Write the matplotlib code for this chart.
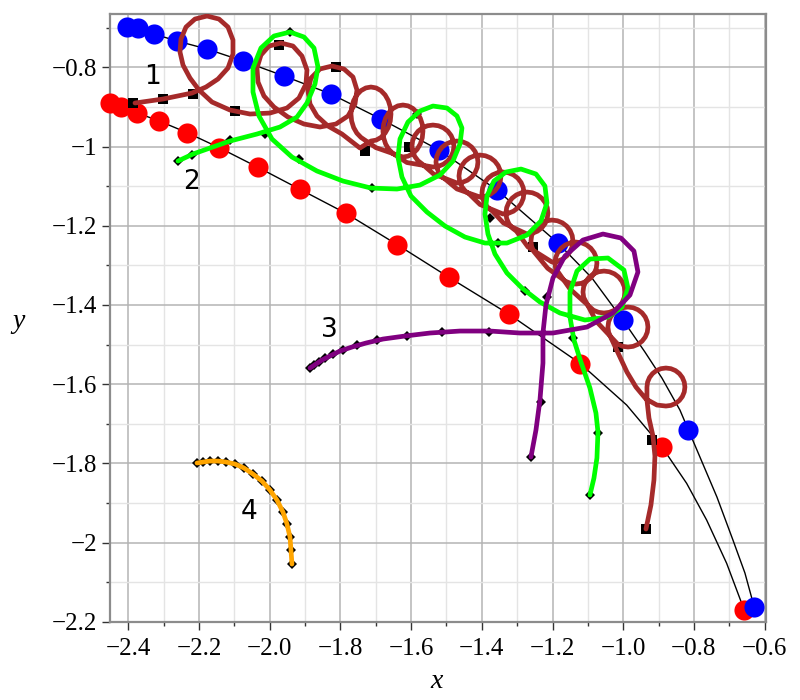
#!/usr/bin/env python3
import matplotlib
matplotlib.use("Agg")
from matplotlib import pyplot as plt

# positions of the two bodies (big dots)
blue_x = [-2.405, -2.372, -2.328, -2.262, -2.177, -2.077, -1.959, -1.828,
          -1.685, -1.521, -1.356, -1.185, -1.000, -0.816, -0.630]
blue_y = [-0.698, -0.702, -0.716, -0.733, -0.755, -0.784, -0.821, -0.867,
          -0.930, -1.009, -1.110, -1.244, -1.438, -1.716, -2.162]
red_x = [-2.452, -2.422, -2.377, -2.313, -2.233, -2.143, -2.033, -1.915,
         -1.784, -1.640, -1.493, -1.324, -1.123, -0.890, -0.658]
red_y = [-0.889, -0.900, -0.915, -0.936, -0.965, -1.003, -1.053, -1.108,
         -1.169, -1.248, -1.330, -1.423, -1.548, -1.760, -2.170]

# thin black orbits through the dots
blue_track_x = [-2.4048, -2.3728, -2.3276, -2.2625, -2.1776, -2.0758, -1.9598,
                -1.8268, -1.6854, -1.5213, -1.3572, -1.1847, -1.0885, -1.0008,
                -0.9386, -0.8905, -0.8396, -0.7830, -0.7349, -0.6896, -0.6557,
                -0.6302]
blue_track_y = [-0.6975, -0.7008, -0.7160, -0.7336, -0.7538, -0.7841, -0.8220,
                -0.8675, -0.9306, -1.0089, -1.1099, -1.2438, -1.3321, -1.4382,
                -1.5190, -1.5847, -1.6655, -1.7842, -1.8852, -1.9938, -2.0771,
                -2.1604]
red_track_x = [-2.4520, -2.4218, -2.3765, -2.3126, -2.2334, -2.1428, -2.0333,
               -1.9145, -1.7844, -1.6401, -1.4930, -1.3241, -1.1224, -0.9903,
               -0.8896, -0.8206, -0.7640, -0.7074, -0.6577]
red_track_y = [-0.8895, -0.8996, -0.9147, -0.9357, -0.9652, -1.0031, -1.0526,
               -1.1081, -1.1688, -1.2475, -1.3304, -1.4230, -1.5475, -1.6529,
               -1.7597, -1.8506, -1.9433, -2.0526, -2.1705]

# trajectory 1 (brown), loop by loop
brown_x = [
    # start and the first three (teardrop) loops
    -2.3813, -2.3021, -2.2201, -2.1804, -2.1465,
    -2.1182, -2.1041, -2.1041, -2.1182, -2.1437, -2.1776, -2.2116, -2.2370,
    -2.2512, -2.2540, -2.2455, -2.2257, -2.2002, -2.1635, -2.1126, -2.0560,
    -1.9994, -1.9513,
    -1.9174, -1.8976, -1.8947, -1.9089, -1.9343, -1.9683, -2.0022, -2.0249,
    -2.0362, -2.0333, -2.0164, -1.9881, -1.9485, -1.9032, -1.8580, -1.8127,
    -1.7787, -1.7589, -1.7533, -1.7646, -1.7901, -1.8240, -1.8580, -1.8834,
    -1.8919, -1.8862, -1.8664, -1.8353, -1.7957, -1.7448,
    # loop 4
    -1.7137, -1.6991, -1.6854, -1.6737, -1.6647, -1.6590, -1.6571, -1.6590,
    -1.6647, -1.6737, -1.6854, -1.6991, -1.7137, -1.7283, -1.7420, -1.7537,
    -1.7627, -1.7684, -1.7703, -1.7684, -1.7627, -1.7537, -1.7420, -1.6996,
    # loop 5
    -1.6232, -1.6086, -1.5949, -1.5832, -1.5742, -1.5685, -1.5666, -1.5685,
    -1.5742, -1.5832, -1.5949, -1.6086, -1.6232, -1.6378, -1.6515, -1.6632,
    -1.6722, -1.6779, -1.6798, -1.6779, -1.6722, -1.6632, -1.6515, -1.6119,
    # loop 6
    -1.5383, -1.5229, -1.5086, -1.4963, -1.4869, -1.4809, -1.4789, -1.4809,
    -1.4869, -1.4963, -1.5086, -1.5229, -1.5383, -1.5537, -1.5680, -1.5803,
    -1.5897, -1.5957, -1.5977, -1.5957, -1.5897, -1.5803, -1.5680, -1.5369,
    # loop 7
    -1.4704, -1.4550, -1.4407, -1.4284, -1.4190, -1.4130, -1.4110, -1.4130,
    -1.4190, -1.4284, -1.4407, -1.4550, -1.4704, -1.4858, -1.5001, -1.5124,
    -1.5218, -1.5278, -1.5298, -1.5278, -1.5218, -1.5124, -1.5001, -1.4704,
    # loop 8
    -1.4053, -1.3899, -1.3756, -1.3633, -1.3539, -1.3479, -1.3459, -1.3479,
    -1.3539, -1.3633, -1.3756, -1.3899, -1.4053, -1.4207, -1.4350, -1.4473,
    -1.4567, -1.4627, -1.4647, -1.4627, -1.4567, -1.4473, -1.4350, -1.4053,
    # loop 9
    -1.3403, -1.3249, -1.3106, -1.2983, -1.2889, -1.2829, -1.2809, -1.2829,
    -1.2889, -1.2983, -1.3106, -1.3249, -1.3403, -1.3557, -1.3700, -1.3823,
    -1.3917, -1.3977, -1.3997, -1.3977, -1.3917, -1.3823, -1.3700, -1.3389,
    # loop 10
    -1.2724, -1.2570, -1.2427, -1.2304, -1.2210, -1.2150, -1.2130, -1.2150,
    -1.2210, -1.2304, -1.2427, -1.2570, -1.2724, -1.2878, -1.3021, -1.3144,
    -1.3238, -1.3298, -1.3318, -1.3298, -1.3238, -1.3144, -1.3021, -1.2696,
    # loop 11
    -1.2017, -1.1863, -1.1720, -1.1597, -1.1503, -1.1443, -1.1423, -1.1443,
    -1.1503, -1.1597, -1.1720, -1.1863, -1.2017, -1.2171, -1.2314, -1.2437,
    -1.2531, -1.2591, -1.2611, -1.2591, -1.2531, -1.2138,
    # loop 12
    -1.1635, -1.1492, -1.1338, -1.1184, -1.1041, -1.0918, -1.0824, -1.0764,
    -1.0744, -1.0764, -1.0824, -1.0918, -1.1041, -1.1184, -1.1338, -1.1492,
    -1.1635, -1.1758, -1.1852, -1.1912, -1.1932, -1.1912, -1.1506,
    # loop 13
    -1.0842, -1.0699, -1.0545, -1.0391, -1.0248, -1.0125, -1.0031, -0.9971,
    -0.9951, -0.9971, -1.0031, -1.0125, -1.0248, -1.0391, -1.0545, -1.0699,
    -1.0842, -1.0965, -1.1059, -1.1119, -1.1139, -1.1119, -1.0770,
    # loop 14
    -1.0150, -1.0013, -0.9867, -0.9721, -0.9584, -0.9467, -0.9377, -0.9320,
    -0.9301, -0.9320, -0.9377, -0.9467, -0.9584, -0.9721, -0.9867, -1.0013,
    -1.0150, -1.0267, -1.0357, -1.0414, -1.0433, -1.0414, -1.0357,
    -1.0093, -0.9895, -0.9640, -0.9357, -0.9046, -0.8792,
    # loop 15 and the tail
    -0.8653, -0.8523, -0.8412, -0.8327, -0.8273, -0.8255, -0.8273, -0.8327,
    -0.8412, -0.8523, -0.8653, -0.8792, -0.8931, -0.9061, -0.9172, -0.9257,
    -0.9311, -0.9329,
    -0.9329, -0.9272, -0.9159, -0.9103, -0.9131, -0.9216, -0.9357]
brown_y = [
    -0.8902, -0.8801, -0.8650, -0.8498, -0.8296,
    -0.8018, -0.7665, -0.7311, -0.6983, -0.6781, -0.6705, -0.6781, -0.6983,
    -0.7286, -0.7614, -0.7942, -0.8271, -0.8574, -0.8877, -0.9079, -0.9180,
    -0.9155, -0.9028,
    -0.8776, -0.8422, -0.8069, -0.7715, -0.7463, -0.7387, -0.7463, -0.7690,
    -0.8018, -0.8372, -0.8725, -0.9003, -0.9256, -0.9432, -0.9508, -0.9432,
    -0.9230, -0.8927, -0.8574, -0.8245, -0.8043, -0.7968, -0.8043, -0.8271,
    -0.8599, -0.8927, -0.9230, -0.9483, -0.9685, -1.0038,
    -0.9862, -0.9839, -0.9771, -0.9662, -0.9521, -0.9357, -0.9180, -0.9003,
    -0.8839, -0.8698, -0.8589, -0.8521, -0.8498, -0.8521, -0.8589, -0.8698,
    -0.8839, -0.9003, -0.9180, -0.9357, -0.9521, -0.9662, -0.9771, -1.0029,
    -1.0266, -1.0244, -1.0178, -1.0074, -0.9937, -0.9779, -0.9609, -0.9439,
    -0.9281, -0.9144, -0.9040, -0.8974, -0.8952, -0.8974, -0.9040, -0.9144,
    -0.9281, -0.9439, -0.9609, -0.9779, -0.9937, -1.0074, -1.0178, -1.0405,
    -1.0518, -1.0500, -1.0447, -1.0363, -1.0253, -1.0125, -0.9988, -0.9851,
    -0.9723, -0.9613, -0.9529, -0.9476, -0.9458, -0.9476, -0.9529, -0.9613,
    -0.9723, -0.9851, -0.9988, -1.0125, -1.0253, -1.0363, -1.0447, -1.0693,
    -1.0922, -1.0904, -1.0851, -1.0767, -1.0657, -1.0529, -1.0392, -1.0255,
    -1.0127, -1.0017, -0.9933, -0.9880, -0.9862, -0.9880, -0.9933, -1.0017,
    -1.0127, -1.0255, -1.0392, -1.0529, -1.0657, -1.0767, -1.0851, -1.1072,
    -1.1276, -1.1258, -1.1205, -1.1121, -1.1011, -1.0883, -1.0746, -1.0609,
    -1.0481, -1.0371, -1.0287, -1.0234, -1.0216, -1.0234, -1.0287, -1.0371,
    -1.0481, -1.0609, -1.0746, -1.0883, -1.1011, -1.1121, -1.1205, -1.1464,
    -1.1705, -1.1687, -1.1634, -1.1550, -1.1440, -1.1312, -1.1175, -1.1038,
    -1.0910, -1.0800, -1.0716, -1.0663, -1.0645, -1.0663, -1.0716, -1.0800,
    -1.0910, -1.1038, -1.1175, -1.1312, -1.1440, -1.1550, -1.1634, -1.1931,
    -1.2210, -1.2192, -1.2139, -1.2055, -1.1945, -1.1817, -1.1680, -1.1543,
    -1.1415, -1.1305, -1.1221, -1.1168, -1.1150, -1.1168, -1.1221, -1.1305,
    -1.1415, -1.1543, -1.1680, -1.1817, -1.1945, -1.2055, -1.2139, -1.2537,
    -1.2917, -1.2899, -1.2846, -1.2762, -1.2652, -1.2524, -1.2387, -1.2250,
    -1.2122, -1.2012, -1.1928, -1.1875, -1.1857, -1.1875, -1.1928, -1.2012,
    -1.2122, -1.2250, -1.2387, -1.2524, -1.2652, -1.3076,
    -1.3402, -1.3455, -1.3473, -1.3455, -1.3402, -1.3318, -1.3208, -1.3080,
    -1.2943, -1.2806, -1.2678, -1.2568, -1.2484, -1.2431, -1.2413, -1.2431,
    -1.2484, -1.2568, -1.2678, -1.2806, -1.2943, -1.3080, -1.3599,
    -1.4134, -1.4187, -1.4205, -1.4187, -1.4134, -1.4050, -1.3940, -1.3812,
    -1.3675, -1.3538, -1.3410, -1.3300, -1.3216, -1.3163, -1.3145, -1.3163,
    -1.3216, -1.3300, -1.3410, -1.3538, -1.3675, -1.3812, -1.4407,
    -1.4996, -1.5047, -1.5064, -1.5047, -1.4996, -1.4916, -1.4812, -1.4690,
    -1.4559, -1.4428, -1.4306, -1.4202, -1.4122, -1.4071, -1.4054, -1.4071,
    -1.4122, -1.4202, -1.4306, -1.4428, -1.4559, -1.4690, -1.4812,
    -1.5316, -1.5695, -1.6074, -1.6377, -1.6529, -1.6554,
    -1.6538, -1.6490, -1.6413, -1.6314, -1.6198, -1.6074, -1.5950, -1.5834,
    -1.5735, -1.5658, -1.5610, -1.5594, -1.5610, -1.5658, -1.5735, -1.5834,
    -1.5950, -1.6074,
    -1.6402, -1.6857, -1.7311, -1.7816, -1.8422, -1.9054, -1.9660]
brown_sq_x = [-2.3870, -2.3021, -2.2172, -2.0984, -1.9739, -1.8127, -1.7306,
              -1.6062, -1.2554, -1.0149, -0.9188, -0.9357]
brown_sq_y = [-0.8902, -0.8801, -0.8675, -0.9104, -0.7437, -0.7993, -1.0114,
              -1.0013, -1.2539, -1.5064, -1.7412, -1.9660]

# trajectory 2 (green)
green_x = [-2.2597, -2.2172, -2.1691, -2.1126, -2.0362, -1.9711, -1.9230, -1.8947,
           -1.8721, -1.8636, -1.8749, -1.9032, -1.9428, -1.9881, -2.0249, -2.0475,
           -2.0475, -2.0305, -1.9937, -1.9372, -1.8664, -1.7929, -1.7137, -1.6401,
           -1.5751, -1.5185, -1.4817, -1.4619, -1.4563, -1.4704, -1.4987, -1.5383,
           -1.5751, -1.6090, -1.6316, -1.6373, -1.6260, -1.6005, -1.5553, -1.5043,
           -1.4478, -1.3912, -1.3290, -1.2724, -1.2328, -1.2158, -1.2215, -1.2469,
           -1.2893, -1.3318, -1.3657, -1.3855, -1.3912, -1.3827, -1.3629, -1.3290,
           -1.2865, -1.2356, -1.1790, -1.1083, -1.0432, -1.0036, -0.9867, -0.9980,
           -1.0432, -1.0942, -1.1309, -1.1507, -1.1507, -1.1394, -1.1196, -1.0942,
           -1.0772, -1.0715, -1.0744, -1.0828, -1.0942]
green_y = [-1.0367, -1.0190, -1.0038, -0.9862, -0.9685, -0.9508, -0.9256, -0.8902,
           -0.8422, -0.7993, -0.7513, -0.7235, -0.7109, -0.7210, -0.7513, -0.8018,
           -0.8624, -0.9230, -0.9811, -1.0266, -1.0619, -1.0872, -1.1049, -1.1074,
           -1.0973, -1.0720, -1.0367, -0.9937, -0.9533, -0.9230, -0.9028, -0.8978,
           -0.9104, -0.9382, -0.9811, -1.0266, -1.0771, -1.1251, -1.1655, -1.2008,
           -1.2286, -1.2438, -1.2438, -1.2236, -1.1882, -1.1427, -1.0998, -1.0695,
           -1.0569, -1.0645, -1.0872, -1.1251, -1.1705, -1.2210, -1.2715, -1.3195,
           -1.3574, -1.3927, -1.4205, -1.4382, -1.4306, -1.4054, -1.3574, -1.3119,
           -1.2816, -1.2842, -1.3145, -1.3675, -1.4306, -1.4887, -1.5443, -1.6099,
           -1.6731, -1.7210, -1.7867, -1.8372, -1.8801]
green_dia_x = [-2.2597, -2.2201, -2.1126, -2.0135, -1.9428, -1.9174, -1.7108,
               -1.5836, -1.3770, -1.3544, -1.2780, -1.1422, -1.0715, -1.0942]
green_dia_y = [-1.0367, -1.0215, -0.9836, -0.9685, -0.7109, -1.0316, -1.1049,
               -0.9180, -1.1806, -1.2438, -1.3650, -1.4837, -1.7236, -1.8801]

# trajectory 3 (purple)
purple_x = [-1.8862, -1.8693, -1.8523, -1.8297, -1.8014, -1.7674, -1.7278, -1.6797,
            -1.6175, -1.5468, -1.4619, -1.3770, -1.2922, -1.1988, -1.1026, -1.0291,
            -0.9810, -0.9584, -0.9697, -1.0065, -1.0574, -1.1140, -1.1649, -1.1988,
            -1.2186, -1.2271, -1.2271, -1.2356, -1.2469, -1.2611]
purple_y = [-1.5594, -1.5493, -1.5392, -1.5291, -1.5165, -1.5064, -1.4963, -1.4862,
            -1.4786, -1.4710, -1.4660, -1.4660, -1.4710, -1.4710, -1.4559, -1.4205,
            -1.3751, -1.3170, -1.2640, -1.2311, -1.2210, -1.2362, -1.2766, -1.3321,
            -1.4003, -1.4710, -1.5468, -1.6402, -1.7160, -1.7842]
purple_dia_x = [-1.8862, -1.8749, -1.8608, -1.8438, -1.8212, -1.7929, -1.7533,
                -1.6967, -1.6118, -1.5128, -1.3799, -1.2158, -1.2328, -1.2611]
purple_dia_y = [-1.5594, -1.5518, -1.5443, -1.5342, -1.5241, -1.5140, -1.5013,
                -1.4887, -1.4786, -1.4685, -1.4685, -1.3801, -1.6453, -1.7842]

# trajectory 4 (orange)
orange_x = [-2.2059, -2.1889, -2.1691, -2.1465, -2.1239, -2.0984, -2.0730, -2.0475,
            -2.0220, -1.9994, -1.9796, -1.9626, -1.9513, -1.9428, -1.9400, -1.9372]
orange_y = [-1.7993, -1.7968, -1.7943, -1.7943, -1.7968, -1.8018, -1.8119, -1.8271,
            -1.8448, -1.8675, -1.8928, -1.9231, -1.9534, -1.9862, -2.0190, -2.0544]

# curve numbers
label_text = ["1", "2", "3", "4"]
label_x = [-2.333, -2.221, -1.830, -2.059]
label_y = [-0.825, -1.089, -1.464, -1.923]

x_ticks = [-2.4, -2.2, -2.0, -1.8, -1.6, -1.4, -1.2, -1.0, -0.8, -0.6]
x_ticklabels = ["\u22122.4", "\u22122.2", "\u22122.0", "\u22121.8", "\u22121.6",
                "\u22121.4", "\u22121.2", "\u22121.0", "\u22120.8", "\u22120.6"]
x_minor = [-2.3, -2.1, -1.9, -1.7, -1.5, -1.3, -1.1, -0.9, -0.7]
y_ticks = [-2.2, -2.0, -1.8, -1.6, -1.4, -1.2, -1.0, -0.8]
y_ticklabels = ["\u22122.2", "\u22122", "\u22121.8", "\u22121.6", "\u22121.4",
                "\u22121.2", "\u22121", "\u22120.8"]
y_minor = [-2.1, -1.9, -1.7, -1.5, -1.3, -1.1, -0.9, -0.7]


def main():
    plt.rcParams['font.family'] = ['Liberation Serif', 'DejaVu Serif']
    fig = plt.figure(figsize=(8, 7), dpi=100)
    ax = fig.add_axes([0.1375, 0.111, 0.8196, 0.869])

    curve_kw = dict(lw=3.4, solid_joinstyle='round', solid_capstyle='round')

    ax.plot(blue_track_x, blue_track_y, color='black', lw=1.0, zorder=2)
    ax.plot(red_track_x, red_track_y, color='black', lw=1.0, zorder=2)
    ax.plot(red_x, red_y, 'o', color='#ff0000', ms=14.5, mew=0, zorder=3, clip_on=False)
    ax.plot(blue_x, blue_y, 'o', color='#0000ff', ms=14.5, mew=0, zorder=3, clip_on=False)

    ax.plot(brown_sq_x, brown_sq_y, 's', color='black', ms=7, mew=0, zorder=4)
    ax.plot(brown_x, brown_y, color='#a52a2a', zorder=5, **curve_kw)

    ax.plot(green_dia_x, green_dia_y, 'D', color='black', ms=5.5, mew=0, zorder=4)
    ax.plot(green_x, green_y, color='#00ff00', zorder=6, **curve_kw)

    ax.plot(purple_dia_x, purple_dia_y, 'D', color='black', ms=5.5, mew=0, zorder=4)
    ax.plot(purple_x, purple_y, color='#800080', zorder=7, **curve_kw)

    ax.plot(orange_x, orange_y, 'D', color='black', ms=5.5, mew=0, zorder=4)
    ax.plot(orange_x, orange_y, color='#ffa500', zorder=7, **curve_kw)

    for t, x, y in zip(label_text, label_x, label_y):
        ax.text(x, y, t, fontsize=19, family='DejaVu Sans', ha='center',
                va='center', zorder=8)

    ax.set_xlim(-2.452, -0.597)
    ax.set_ylim(-2.2015, -0.6654)
    ax.set_xticks(x_ticks)
    ax.set_xticklabels(x_ticklabels)
    ax.set_xticks(x_minor, minor=True)
    ax.set_yticks(y_ticks)
    ax.set_yticklabels(y_ticklabels)
    ax.set_yticks(y_minor, minor=True)

    ax.set_axisbelow(True)
    ax.grid(which='major', color='#b4b4b4', lw=1.1)
    ax.grid(which='minor', color='#e4e4e4', lw=1.0)
    ax.tick_params(which='major', direction='out', length=6, width=1.0,
                   color='#333333', labelsize=18)
    ax.tick_params(which='minor', direction='out', length=3, width=1.0,
                   color='#333333')
    ax.tick_params(axis='x', which='major', pad=5)
    ax.tick_params(axis='y', which='major', pad=3)
    for s in ax.spines.values():
        s.set_color('#8c8c8c')
        s.set_linewidth(1.6)

    fig.text(437 / 800, 1 - 681 / 700, 'x', fontsize=20, style='italic',
             ha='center', va='center')
    fig.text(18 / 800, 1 - 321 / 700, 'y', fontsize=20, style='italic',
             ha='center', va='center')

    fig.savefig("out.png", dpi=100)


if __name__ == "__main__":
    main()
